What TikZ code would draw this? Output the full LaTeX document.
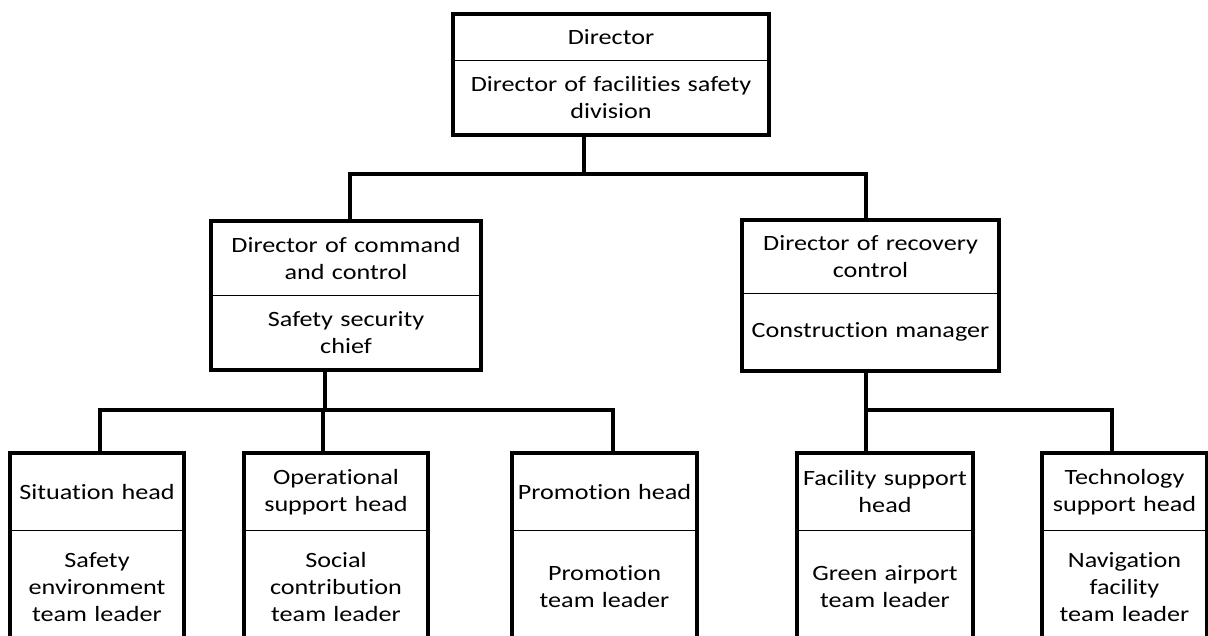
\documentclass[tikz,border=0pt]{standalone}
\usepackage{fontspec}
\setmainfont{Carlito}[FakeStretch=1.2, Ligatures=NoCommon]
\usetikzlibrary{fit}
\begin{document}
\begin{tikzpicture}[x=1pt,y=-1pt,
  part/.style={draw, line width=1pt, inner sep=0pt, align=center, anchor=north west,
    font=\fontsize{21.8}{27}\selectfont},
  frame/.style={draw, line width=3.2pt, inner sep=0pt},
  conn/.style={draw, line width=3.2pt, line cap=rect, line join=miter}]
\useasboundingbox (0,0) rectangle (1208,636);
\clip (0,0) rectangle (1208,636);
% top box
\node[part, minimum width=315, minimum height=46, text width=309] (topA) at (453,14) {Director};
\node[part, minimum width=315, minimum height=74, text width=309] (topB) at (453,60) {Director of facilities safety\\division};
\node[frame, fit=(topA)(topB)] (top) {};
% middle left
\node[part, minimum width=269, minimum height=74, text width=263] (mlA) at (211,221) {Director of command\\and control};
\node[part, minimum width=269, minimum height=74, text width=263] (mlB) at (211,295) {Safety security\\chief};
\node[frame, fit=(mlA)(mlB)] (ml) {};
% middle right
\node[part, minimum width=256, minimum height=73, text width=250] (mrA) at (742,220) {Director of recovery\\control};
\node[part, minimum width=256, minimum height=77, text width=250] (mrB) at (742,293) {Construction manager};
\node[frame, fit=(mrA)(mrB)] (mr) {};
% bottom row
\node[part, minimum width=173, minimum height=77, text width=170] (b1A) at (10,453) {Situation head};
\node[part, minimum width=173, minimum height=113, text width=170] (b1B) at (10,530) {Safety\\environment\\team leader};
\node[frame, fit=(b1A)(b1B)] (b1) {};
\node[part, minimum width=183, minimum height=77, text width=179] (b2A) at (244,453) {Operational\\support head};
\node[part, minimum width=183, minimum height=113, text width=179] (b2B) at (244,530) {Social\\contribution\\team leader};
\node[frame, fit=(b2A)(b2B)] (b2) {};
\node[part, minimum width=184, minimum height=77, text width=180] (b3A) at (512,453) {Promotion head};
\node[part, minimum width=184, minimum height=113, text width=180] (b3B) at (512,530) {Promotion\\team leader};
\node[frame, fit=(b3A)(b3B)] (b3) {};
\node[part, minimum width=175, minimum height=77, text width=172] (b4A) at (797,453) {Facility support\\head};
\node[part, minimum width=175, minimum height=113, text width=172] (b4B) at (797,530) {Green airport\\team leader};
\node[frame, fit=(b4A)(b4B)] (b4) {};
\node[part, minimum width=164, minimum height=77, text width=161] (b5A) at (1042,453) {Technology\\support head};
\node[part, minimum width=164, minimum height=113, text width=161] (b5B) at (1042,530) {Navigation\\facility\\team leader};
\node[frame, fit=(b5A)(b5B)] (b5) {};
% junction coordinates
\coordinate (jT) at (584,174);
\coordinate (jL) at (350,174);
\coordinate (jR) at (866,174);
\coordinate (k1) at (100,410);
\coordinate (k2) at (323,410);
\coordinate (kM) at (325,410);
\coordinate (k3) at (613,410);
\coordinate (k4) at (866,410);
\coordinate (k5) at (1112,410);
% connectors
\draw[conn] (top.south -| jT) -- (jT);
\draw[conn] (ml.north -| jL) |- (jR) -- (mr.north -| jR);
\draw[conn] (ml.south -| kM) -- (kM);
\draw[conn] (b1.north -| k1) |- (k3) -- (b3.north -| k3);
\draw[conn] (k2) -- (b2.north -| k2);
\draw[conn] (mr.south -| k4) -- (b4.north -| k4);
\draw[conn] (k4) -| (b5.north -| k5);
\end{tikzpicture}
\end{document}
